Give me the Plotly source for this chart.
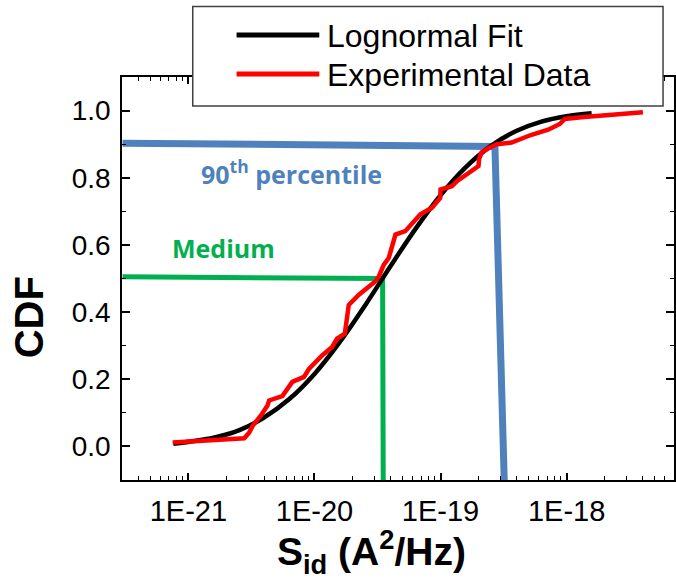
import plotly.graph_objects as go

# ---- data ----
fit_x = [7.59e-22, 1.58e-21, 2.51e-21, 3.98e-21, 6.31e-21, 1.0e-20, 1.58e-20, 2.51e-20,
         3.98e-20, 6.31e-20, 1.0e-19, 1.58e-19, 2.51e-19, 3.98e-19, 6.31e-19, 1.0e-18, 1.58e-18]
fit_y = [0.008, 0.026, 0.048, 0.086, 0.141, 0.216, 0.310, 0.419,
         0.535, 0.647, 0.748, 0.831, 0.895, 0.939, 0.967, 0.983, 0.992]

exp_x = [7.50e-22, 2.77e-21, 3.02e-21, 3.24e-21, 3.76e-21, 4.24e-21, 4.37e-21, 5.56e-21,
         6.67e-21, 8.26e-21, 9.04e-21, 1.15e-20, 1.38e-20, 1.51e-20, 1.74e-20, 1.87e-20,
         2.24e-20, 3.03e-20, 3.24e-20, 3.55e-20, 3.88e-20, 4.39e-20, 5.25e-20, 5.75e-20,
         6.92e-20, 8.55e-20, 9.95e-20, 1.0e-19, 1.23e-19, 1.35e-19, 1.67e-19, 2.0e-19,
         2.02e-19, 2.12e-19, 2.40e-19, 2.80e-19, 3.66e-19, 5.27e-19, 7.14e-19, 8.83e-19,
         9.68e-19, 1.31e-18, 4.03e-18]
exp_y = [0.012, 0.024, 0.040, 0.062, 0.092, 0.122, 0.137, 0.150,
         0.192, 0.207, 0.231, 0.271, 0.296, 0.321, 0.336, 0.421,
         0.451, 0.491, 0.506, 0.541, 0.561, 0.631, 0.641, 0.656,
         0.691, 0.711, 0.740, 0.765, 0.775, 0.790, 0.815, 0.835,
         0.855, 0.876, 0.888, 0.900, 0.905, 0.928, 0.943, 0.960,
         0.975, 0.980, 0.995]

# guide lines (90th percentile, median)
p90_x = [3.0e-22, 2.70e-19, 3.20e-19]
p90_y = [0.903, 0.893, -0.1]
med_x = [3.0e-22, 3.47e-20, 3.51e-20]
med_y = [0.505, 0.500, -0.1]

x_tick_vals = [1e-21, 1e-20, 1e-19, 1e-18]
x_tick_text = ["1E-21", "1E-20", "1E-19", "1E-18"]
y_tick_vals = [0.0, 0.2, 0.4, 0.6, 0.8, 1.0]
y_tick_text = ["0.0", "0.2", "0.4", "0.6", "0.8", "1.0"]

legend_names = ["Lognormal Fit", "Experimental Data"]

BLUE = "#4F81BD"
GREEN = "#00B050"

fig = go.Figure()
fig.add_trace(go.Scatter(x=p90_x, y=p90_y, mode="lines", line=dict(color=BLUE, width=7),
                         showlegend=False, hoverinfo="skip"))
fig.add_trace(go.Scatter(x=med_x, y=med_y, mode="lines", line=dict(color=GREEN, width=5),
                         showlegend=False, hoverinfo="skip"))
fig.add_trace(go.Scatter(x=fit_x, y=fit_y, mode="lines", name=legend_names[0],
                         line=dict(color="black", width=4.5, shape="spline"), showlegend=False))
fig.add_trace(go.Scatter(x=exp_x, y=exp_y, mode="lines", name=legend_names[1],
                         line=dict(color="#FF0000", width=4.5), showlegend=False))

W, H = 676, 584
L, R, T, B = 122, 0, 77, 104
PW, PH = W - L - R, H - T - B


def px(xp):
    return (xp - L) / PW


def py(yp):
    return (H - B - yp) / PH


shapes = [
    dict(type="rect", xref="paper", yref="paper", x0=px(193), x1=px(665), y0=py(106), y1=py(6.5),
         line=dict(color="#404040", width=1.5), fillcolor="white", layer="above"),
    dict(type="line", xref="paper", yref="paper", x0=px(237), x1=px(320), y0=py(35), y1=py(35),
         line=dict(color="black", width=5), layer="above"),
    dict(type="line", xref="paper", yref="paper", x0=px(237), x1=px(320), y0=py(74), y1=py(74),
         line=dict(color="#FF0000", width=5), layer="above"),
]

annotations = [
    dict(text=legend_names[0], xref="paper", yref="paper", x=px(326), y=py(36), xanchor="left",
         yanchor="middle", showarrow=False, font=dict(family="Liberation Sans", size=32, color="black")),
    dict(text=legend_names[1], xref="paper", yref="paper", x=px(326), y=py(75), xanchor="left",
         yanchor="middle", showarrow=False, font=dict(family="Liberation Sans", size=32, color="black")),
    dict(text="<b>90<sup>th</sup> percentile</b>", xref="paper", yref="paper", x=px(199), y=py(172),
         xanchor="left", yanchor="middle", showarrow=False,
         font=dict(family="Open Sans", size=25, color=BLUE)),
    dict(text="<b>Medium</b>", xref="paper", yref="paper", x=px(170), y=py(248),
         xanchor="left", yanchor="middle", showarrow=False,
         font=dict(family="Open Sans", size=25, color=GREEN)),
    dict(text="<b>S<sub>id</sub> (A<sup>2</sup>/Hz)</b>", xref="paper", yref="paper", x=px(372), y=py(552),
         xanchor="center", yanchor="middle", showarrow=False,
         font=dict(family="Liberation Sans", size=39, color="black")),
    dict(text="<b>CDF</b>", xref="paper", yref="paper", x=px(29), y=py(317), textangle=-90,
         xanchor="center", yanchor="middle", showarrow=False,
         font=dict(family="Liberation Sans", size=40, color="black")),
]

fig.update_layout(
    width=W, height=H, margin=dict(l=L, r=R, t=T, b=B, pad=0),
    paper_bgcolor="white", plot_bgcolor="white",
    shapes=shapes, annotations=annotations, showlegend=False,
    font=dict(family="Liberation Sans", color="black"),
)
fig.update_xaxes(type="log", range=[-21.527, -17.148], tickmode="array",
                 tickvals=x_tick_vals, ticktext=x_tick_text,
                 ticks="inside", ticklen=7, tickwidth=1.6, tickcolor="black",
                 showline=True, linecolor="black", linewidth=1.6, mirror="ticks",
                 showgrid=False, zeroline=False, ticklabelstandoff=4,
                 tickfont=dict(family="Liberation Sans", size=29, color="black"),
                 minor=dict(dtick="D1", ticks="inside", ticklen=4,
                            tickwidth=1.3, tickcolor="black", showgrid=False))
fig.update_yaxes(range=[-0.1, 1.1], tickmode="array", tickvals=y_tick_vals, ticktext=y_tick_text,
                 ticks="inside", ticklen=8, tickwidth=1.6, tickcolor="black",
                 showline=True, linecolor="black", linewidth=1.6, mirror="ticks",
                 showgrid=False, zeroline=False, ticklabelstandoff=4,
                 tickfont=dict(family="Liberation Sans", size=28, color="black"),
                 minor=dict(dtick=0.1, ticks="inside", ticklen=4, tickwidth=1.3,
                            tickcolor="black", showgrid=False))

fig.write_html("out.html")
